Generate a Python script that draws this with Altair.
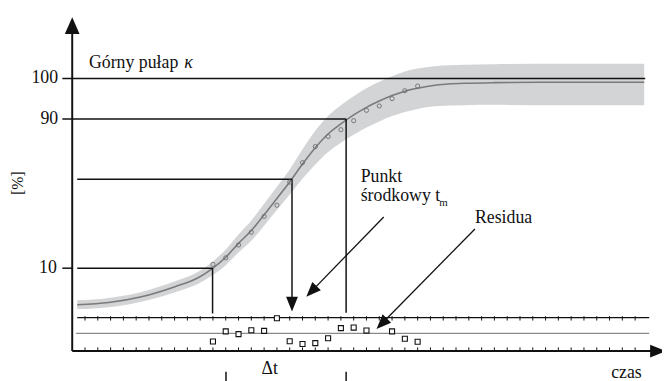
import altair as alt
import pandas as pd

# ---------------- data (schematic units: t = time in tick units, u = vertical level) -------------
# fitted logistic curve
curve_t = [0.39, 2.86, 5.41, 8.03, 9.81, 11, 12, 13, 14, 15, 16, 17, 18, 19, 20, 21, 22,
           23, 24, 25, 26, 27, 28.34, 30.66, 32.97, 37.61, 44.71]
curve_u = [17.0, 17.8, 19.9, 23.6, 26.8, 30.4, 34.4, 39.5, 44.2, 50.0, 56.0, 62.0, 68.6,
           74.6, 79.6, 83.3, 86.6, 89.4, 91.7, 93.7, 95.3, 96.4, 97.5, 98.2, 98.45, 98.6, 98.6]
# confidence band around the curve
band_hi = [18.6, 19.5, 21.7, 25.6, 29.0, 32.9, 37.3, 42.8, 47.9, 54.0, 60.3, 66.6, 74.0,
           80.8, 86.2, 90.2, 93.5, 96.4, 98.8, 100.8, 102.5, 103.6, 104.5, 105.0, 105.2, 105.4, 105.4]
band_lo = [15.4, 16.1, 18.1, 21.6, 24.6, 27.9, 31.5, 36.2, 40.5, 46.0, 51.7, 57.4, 63.2,
           68.4, 73.0, 76.4, 79.3, 82.0, 84.2, 86.2, 87.7, 88.8, 89.8, 90.2, 90.3, 90.2, 90.2]
# measured points
sample_t = list(range(11, 28))
sample_u = [31.8, 34.2, 38.9, 43.6, 49.4, 53.5, 62.0, 69.1, 75.0, 78.7, 81.2, 84.5, 88.3,
            89.9, 92.6, 95.5, 97.2]
# residuals
resid_t = [11, 12, 13, 14, 15, 16, 17, 18, 19, 20, 21, 22, 23, 25, 26, 27]
resid_v = [-3.0, 0.7, -0.3, 1.1, 0.9, 5.5, -2.9, -3.9, -3.6, -1.8, 1.9, 2.1, 1.0, 0.7, -2.0, -3.1]
tick_t = list(range(1, 45))

level_labels = ["100", "90", "10"]
level_pos = [100.0, 85.1, 30.4]          # schematic (non-linear) axis positions
mid_level = 63.0
t_10, t_mid, t_90 = 10.97, 17.18, 21.41
resid_base, resid_top = 6.52, 12.3
dt_left, dt_right = 12.02, 21.41

# ---------------- scales ----------------
W, H = 662, 373
xs = alt.Scale(domain=[-5.0193, 46.10], nice=False, zero=False)
ys = alt.Scale(domain=[-10.145, 125.0], nice=False, zero=False)
FONT = "Liberation Serif"


def X(f):
    return alt.X(f, type="quantitative", scale=xs, axis=None)


def Y(f):
    return alt.Y(f, type="quantitative", scale=ys, axis=None)


curve_df = pd.DataFrame({"t": curve_t, "u": curve_u, "hi": band_hi, "lo": band_lo})
samp_df = pd.DataFrame({"t": sample_t, "u": sample_u})
res_df = pd.DataFrame({"t": resid_t, "u": [resid_base + v for v in resid_v]})

band = alt.Chart(curve_df).mark_area(color="#d3d4d6", opacity=1, interpolate="monotone").encode(
    x=X("t"), y=Y("lo"), y2="hi")
curve = alt.Chart(curve_df).mark_line(color="#7a7a7a", strokeWidth=1.6, interpolate="monotone").encode(
    x=X("t"), y=Y("u"))

# guide segments built from the levels
seg_black = pd.DataFrame([
    {"x": -0.77, "x2": 44.79, "y": level_pos[0], "y2": level_pos[0]},
    {"x": -0.77, "x2": t_90, "y": level_pos[1], "y2": level_pos[1]},
    {"x": t_90, "x2": t_90, "y": level_pos[1], "y2": 14.1},
    {"x": 0.39, "x2": t_mid, "y": mid_level, "y2": mid_level},
    {"x": t_mid, "x2": t_mid, "y": mid_level, "y2": 19.0},
    {"x": -0.77, "x2": 0.0, "y": level_pos[2], "y2": level_pos[2]},
    {"x": 0.39, "x2": t_10, "y": level_pos[2], "y2": level_pos[2]},
    {"x": t_10, "x2": t_10, "y": level_pos[2], "y2": 13.8},
    {"x": dt_left, "x2": dt_left, "y": -7.6, "y2": -11.0},
    {"x": dt_right, "x2": dt_right, "y": -7.6, "y2": -11.0},
])
guides = alt.Chart(seg_black).mark_rule(color="#111", strokeWidth=1.5).encode(
    x=X("x"), x2="x2", y=Y("y"), y2="y2")

seg_axes = pd.DataFrame([
    {"x": 0.0, "x2": 0.0, "y": 0.0, "y2": 117.0},
    {"x": 0.0, "x2": 45.3, "y": 0.0, "y2": 0.0},
])
axes = alt.Chart(seg_axes).mark_rule(color="#111", strokeWidth=2).encode(
    x=X("x"), x2="x2", y=Y("y"), y2="y2")

seg_arrows = pd.DataFrame([
    {"x": 24.35, "x2": 18.70, "y": 49.2, "y2": 21.9},
    {"x": 31.48, "x2": 24.19, "y": 44.8, "y2": 10.0},
])
arrow_lines = alt.Chart(seg_arrows).mark_rule(color="#111", strokeWidth=1.3).encode(
    x=X("x"), x2="x2", y=Y("y"), y2="y2")

res_top_line = alt.Chart(pd.DataFrame({"x": [0.39], "x2": [45.1], "y": [resid_top]})).mark_rule(
    color="#111", strokeWidth=1.2).encode(x=X("x"), x2="x2", y=Y("y"))
res_mid_line = alt.Chart(pd.DataFrame({"x": [0.29], "x2": [45.1], "y": [resid_base]})).mark_rule(
    color="#8a8a8a", strokeWidth=1.3).encode(x=X("x"), x2="x2", y=Y("y"))

ticks_df = pd.DataFrame({"t": tick_t})
ticks_top = alt.Chart(ticks_df).transform_calculate(
    y1=f"{resid_top + 0.5}", y2=f"{resid_top - 1.1}").mark_rule(
    color="#111", strokeWidth=1).encode(x=X("t"), y=Y("y1"), y2="y2")
ticks_bot = alt.Chart(ticks_df).transform_calculate(y1="0", y2="1.35").mark_rule(
    color="#111", strokeWidth=1).encode(x=X("t"), y=Y("y1"), y2="y2")

circles = alt.Chart(samp_df).mark_point(shape="circle", filled=False, size=18, color="#6d6d6d",
                                        strokeWidth=0.9, opacity=1).encode(x=X("t"), y=Y("u"))
squares = alt.Chart(res_df).mark_point(shape="square", filled=True, size=26, fill="white",
                                       stroke="#111", strokeWidth=1.1, opacity=1).encode(x=X("t"), y=Y("u"))

heads_df = pd.DataFrame([
    {"t": t_mid, "u": 17.2, "ang": 180, "sz": 225},
    {"t": 18.70, "u": 21.88, "ang": 224, "sz": 225},
    {"t": 24.19, "u": 10.02, "ang": 224.5, "sz": 225},
    {"t": 45.79, "u": 0.0, "ang": 90, "sz": 256},
])
heads = alt.Chart(heads_df).mark_point(shape="M0,-1L0.8,1L-0.8,1Z", filled=True, color="#111",
                                       opacity=1, strokeWidth=0).encode(
    x=X("t"), y=Y("u"), angle=alt.Angle("ang:Q", scale=None), size=alt.Size("sz:Q", scale=None))
yhead = alt.Chart(pd.DataFrame({"t": [0.0], "u": [119.4]})).mark_point(
    shape="M0,-1L0.88,1L-0.88,1Z", filled=True, color="#111", opacity=1, size=289, strokeWidth=0).encode(
    x=X("t"), y=Y("u"))

# texts
lvl_df = pd.DataFrame({"txt": level_labels, "u": level_pos, "t": [-1.1, -1.1, -1.2]})
lvl_text = alt.Chart(lvl_df).mark_text(font=FONT, fontSize=18, align="right", baseline="middle",
                                       color="#111").encode(x=X("t"), y=Y("u"), text="txt:N")

left_df = pd.DataFrame([
    {"txt": "Górny pułap", "t": 1.31, "u": 103.7},
    {"txt": "Punkt", "t": 22.55, "u": 62.1},
    {"txt": "środkowy t", "t": 22.55, "u": 54.9},
    {"txt": "Residua", "t": 31.48, "u": 47.0},
])
left_text = alt.Chart(left_df).mark_text(font=FONT, fontSize=18, align="left", baseline="alphabetic",
                                         color="#111").encode(x=X("t"), y=Y("u"), text="txt:N")
kappa = alt.Chart(pd.DataFrame({"txt": ["κ"], "t": [8.75], "u": [103.7]})).mark_text(
    font=FONT, fontSize=18, fontStyle="italic", align="left", baseline="alphabetic", color="#111").encode(
    x=X("t"), y=Y("u"), text="txt:N")
sub_m = alt.Chart(pd.DataFrame({"txt": ["m"], "t": [28.69], "u": [53.1]})).mark_text(
    font=FONT, fontSize=11, align="left", baseline="alphabetic", color="#111").encode(
    x=X("t"), y=Y("u"), text="txt:N")
center_df = pd.DataFrame([
    {"txt": "Δt", "t": 15.44, "u": -8.33},
    {"txt": "czas", "t": 43.32, "u": -9.78},
])
center_text = alt.Chart(center_df).mark_text(font=FONT, fontSize=18, align="center",
                                             baseline="alphabetic", color="#111").encode(
    x=X("t"), y=Y("u"), text="txt:N")
ylab = alt.Chart(pd.DataFrame({"txt": ["[%]"], "t": [-4.21], "u": [61.6]})).mark_text(
    font=FONT, fontSize=16, align="center", baseline="middle", color="#111", angle=270).encode(
    x=X("t"), y=Y("u"), text="txt:N")

chart = alt.layer(
    band, curve, guides, res_mid_line, res_top_line, ticks_top, ticks_bot, axes, arrow_lines,
    circles, squares, heads, yhead, lvl_text, left_text, kappa, sub_m, center_text, ylab
).properties(
    width=W, height=H, padding=0, autosize=alt.AutoSizeParams(type="none")
).configure_view(stroke=None)

chart.save("out.html", embed_options={"renderer": "svg", "actions": False})
